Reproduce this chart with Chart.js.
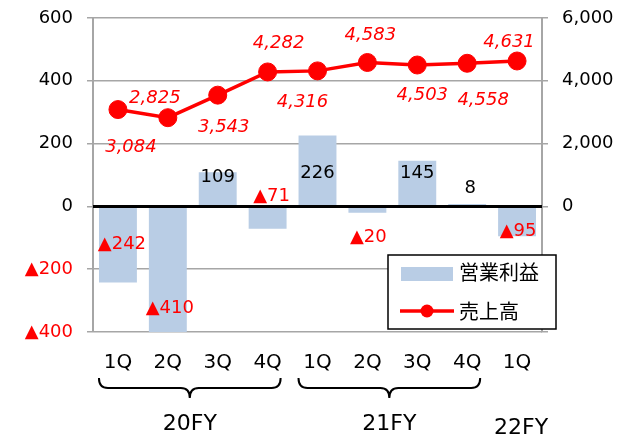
<!DOCTYPE html>
<html>
<head>
<meta charset="utf-8">
<script src="https://cdn.jsdelivr.net/npm/chart.js@4"></script>
<style>
  html, body { margin: 0; padding: 0; background: #fff; }
  #wrap { width: 623px; height: 439px; }
</style>
</head>
<body>
<div id="wrap"><canvas id="c" width="623" height="439"></canvas></div>
<script>
// ---- data ----
const categories = ['1Q', '2Q', '3Q', '4Q', '1Q', '2Q', '3Q', '4Q', '1Q'];
const operatingProfit = [-242, -410, 109, -71, 226, -20, 145, 8, -95]; // 営業利益 (left axis)
const sales = [3084, 2825, 3543, 4282, 4316, 4583, 4503, 4558, 4631];   // 売上高 (right axis)
const fiscalYears = ['20FY', '21FY', '22FY'];
const fiscalYearSpans = [[0, 3], [4, 7], [8, 8]];
const leftTickRange = [-400, 600, 200];
const rightTickRange = [-4000, 6000, 2000];

// label placement (pixel offsets)
const salesLabelOffsets = [[13, 38], [-13, -19], [6, 32], [11, -29], [-15, 31], [3, -27], [5, 30], [16, 37], [-8, -19]];
const profitLabelOffsets = [[4, 38], [2, 102], [0, -29], [4, -10], [0, -33], [1, 31], [0, -33], [3, -18], [1, 25]];

const RED = '#FF0000';
const BLUE = '#B9CDE5';
const GRID = '#A6A6A6';
const FONT = '"DejaVu Sans", Verdana, sans-serif';
const JFONT = '"Noto Sans CJK JP", "DejaVu Sans", sans-serif';

function fmtProfit(v) { return v < 0 ? '▲' + Math.abs(v) : String(v); }
function fmtSales(v) { return v.toLocaleString('en-US'); }

const overlayPlugin = {
  id: 'overlay',
  afterDatasetsDraw(chart) {
    const ctx = chart.ctx;
    const area = chart.chartArea;
    const y = chart.scales.y;
    const x = chart.scales.x;
    const y0 = y.getPixelForValue(0);
    // zero line
    ctx.save();
    ctx.strokeStyle = '#000';
    ctx.lineWidth = 3;
    ctx.beginPath();
    ctx.moveTo(area.left, y0);
    ctx.lineTo(area.right, y0);
    ctx.stroke();
    ctx.restore();

    const lineMeta = chart.getDatasetMeta(1);

    ctx.save();
    ctx.textAlign = 'center';
    ctx.textBaseline = 'middle';
    // profit labels
    ctx.font = '18px ' + FONT;
    operatingProfit.forEach((v, i) => {
      const px = x.getPixelForValue(i) + profitLabelOffsets[i][0];
      const py = y0 + profitLabelOffsets[i][1];
      ctx.fillStyle = v < 0 ? RED : '#000';
      ctx.fillText(fmtProfit(v), px, py);
    });
    // sales labels
    ctx.font = 'italic 18px ' + FONT;
    ctx.fillStyle = RED;
    lineMeta.data.forEach((pt, i) => {
      ctx.fillText(fmtSales(sales[i]), pt.x + salesLabelOffsets[i][0], pt.y + salesLabelOffsets[i][1]);
    });
    ctx.restore();
  },
  afterDraw(chart) {
    const ctx = chart.ctx;
    const x = chart.scales.x;
    ctx.save();
    // braces
    ctx.strokeStyle = '#000';
    ctx.lineWidth = 2;
    function brace(x1, x2, top, bottom) {
      const mid = (x1 + x2) / 2;
      const h = bottom - top;
      const yb = top + h * 0.5;
      const r = 9;
      ctx.beginPath();
      ctx.moveTo(x1, top);
      ctx.quadraticCurveTo(x1, yb, x1 + r, yb);
      ctx.lineTo(mid - r, yb);
      ctx.quadraticCurveTo(mid, yb, mid, bottom);
      ctx.quadraticCurveTo(mid, yb, mid + r, yb);
      ctx.lineTo(x2 - r, yb);
      ctx.quadraticCurveTo(x2, yb, x2, top);
      ctx.stroke();
    }
    ctx.font = '22px ' + FONT;
    ctx.fillStyle = '#000';
    ctx.textAlign = 'center';
    ctx.textBaseline = 'middle';
    fiscalYearSpans.forEach((s, k) => {
      const a = x.getPixelForValue(s[0]);
      const b = x.getPixelForValue(s[1]);
      if (s[1] > s[0]) {
        brace(a - 19, b + 13, 378, 398);
        ctx.fillText(fiscalYears[k], (a + b) / 2 - 3, 424);
      } else {
        ctx.fillText(fiscalYears[k], a + 4, 428);
      }
    });

    // legend
    const lx = 388, ly = 255, lw = 168, lh = 74;
    ctx.fillStyle = '#fff';
    ctx.fillRect(lx, ly, lw, lh);
    ctx.strokeStyle = '#000';
    ctx.lineWidth = 1.5;
    ctx.strokeRect(lx, ly, lw, lh);
    ctx.fillStyle = BLUE;
    ctx.fillRect(401, 267, 52, 14);
    ctx.strokeStyle = RED;
    ctx.lineWidth = 3.5;
    ctx.beginPath();
    ctx.moveTo(400, 311);
    ctx.lineTo(454, 311);
    ctx.stroke();
    ctx.fillStyle = RED;
    ctx.beginPath();
    ctx.arc(427, 311, 6.5, 0, Math.PI * 2);
    ctx.fill();
    ctx.fillStyle = '#000';
    ctx.textAlign = 'left';
    ctx.font = '20px ' + JFONT;
    ctx.fillText(chart.data.datasets[0].label, 459, 272);
    ctx.fillText(chart.data.datasets[1].label, 459, 311);
    ctx.restore();
  }
};

function fixVertical(width) {
  return function (s) {
    s.width = width;
    s.paddingTop = 0;
    s.paddingBottom = 0;
  };
}

new Chart(document.getElementById('c'), {
  data: {
    labels: categories,
    datasets: [
      {
        type: 'bar',
        label: '営業利益',
        data: operatingProfit,
        backgroundColor: BLUE,
        yAxisID: 'y',
        barPercentage: 0.76,
        categoryPercentage: 1,
        order: 2
      },
      {
        type: 'line',
        label: '売上高',
        data: sales,
        borderColor: RED,
        backgroundColor: RED,
        borderWidth: 3.5,
        pointRadius: 9,
        pointBorderWidth: 1,
        pointBackgroundColor: RED,
        pointBorderColor: RED,
        yAxisID: 'y2',
        tension: 0,
        order: 1
      }
    ]
  },
  options: {
    responsive: false,
    animation: false,
    layout: { padding: { top: 18, left: 0, right: 0, bottom: 0 } },
    plugins: { legend: { display: false }, tooltip: { enabled: false } },
    scales: {
      x: {
        grid: { display: false, drawTicks: false },
        border: { display: false },
        ticks: { color: '#000', font: { family: FONT, size: 20 }, padding: 19, maxRotation: 0 },
        afterFit(s) { s.height = 107; s.paddingLeft = 0; s.paddingRight = 0; }
      },
      y: {
        position: 'left',
        min: leftTickRange[0],
        max: leftTickRange[1],
        ticks: {
          stepSize: leftTickRange[2],
          padding: 14,
          color: (c) => c.tick.value < 0 ? RED : '#000',
          font: { family: FONT, size: 18 },
          callback: (v) => fmtProfit(v)
        },
        grid: {
          color: (c) => c.tick && c.tick.value === 0 ? 'rgba(0,0,0,0)' : GRID,
          tickColor: GRID,
          lineWidth: 1.5,
          tickLength: 6
        },
        border: { color: GRID, width: 2 },
        afterFit: fixVertical(93)
      },
      y2: {
        position: 'right',
        min: rightTickRange[0],
        max: rightTickRange[1],
        ticks: {
          stepSize: rightTickRange[2],
          padding: 14,
          color: '#000',
          font: { family: FONT, size: 18 },
          callback: (v) => v < 0 ? '' : fmtSales(v)
        },
        grid: { drawOnChartArea: false, tickColor: GRID, lineWidth: 1.5, tickLength: 6 },
        border: { color: GRID, width: 2 },
        afterFit: fixVertical(81)
      }
    }
  },
  plugins: [overlayPlugin]
});
</script>
</body>
</html>
